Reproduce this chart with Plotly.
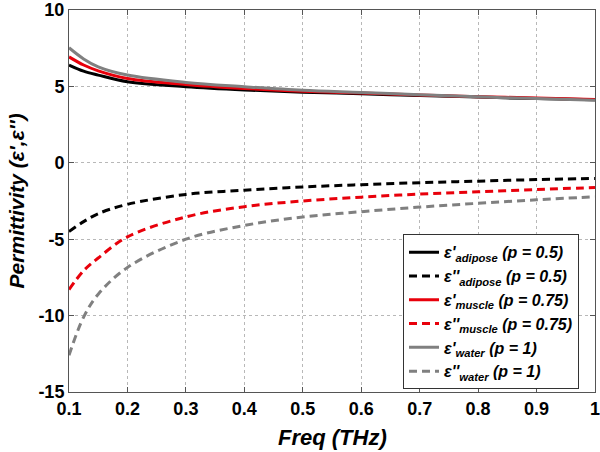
import plotly.graph_objects as go

freq = [0.1, 0.125, 0.15, 0.2, 0.3, 0.4, 0.5, 0.6, 0.7, 0.8, 0.9, 1.0]

eps1_adipose = [6.4, 6.0, 5.74, 5.3, 4.98, 4.77, 4.62, 4.52, 4.40, 4.30, 4.20, 4.12]
eps1_muscle = [6.93, 6.4, 6.02, 5.52, 5.13, 4.87, 4.68, 4.56, 4.44, 4.33, 4.24, 4.15]
eps1_water = [7.53, 6.8, 6.28, 5.74, 5.26, 4.98, 4.74, 4.60, 4.45, 4.32, 4.20, 4.10]

eps2_adipose = [-4.5, -3.85, -3.33, -2.72, -2.07, -1.79, -1.58, -1.43, -1.30, -1.20, -1.10, -1.02]
eps2_muscle = [-8.3, -7.06, -6.23, -4.85, -3.54, -2.87, -2.50, -2.25, -2.05, -1.90, -1.75, -1.62]
eps2_water = [-12.6, -10.1, -8.6, -6.85, -5.0, -4.1, -3.55, -3.2, -2.9, -2.65, -2.42, -2.22]

series = [
    ("ε'<sub>adipose</sub> (p = 0.5)", eps1_adipose, "#000000", "solid"),
    ("ε''<sub>adipose</sub> (p = 0.5)", eps2_adipose, "#000000", "8px,5px"),
    ("ε'<sub>muscle</sub> (p = 0.75)", eps1_muscle, "#e8000b", "solid"),
    ("ε''<sub>muscle</sub> (p = 0.75)", eps2_muscle, "#e8000b", "8px,5px"),
    ("ε'<sub>water</sub> (p = 1)", eps1_water, "#808080", "solid"),
    ("ε''<sub>water</sub> (p = 1)", eps2_water, "#808080", "8px,5px"),
]

xticks = [0.1, 0.2, 0.3, 0.4, 0.5, 0.6, 0.7, 0.8, 0.9, 1.0]
xticklabels = ["0.1", "0.2", "0.3", "0.4", "0.5", "0.6", "0.7", "0.8", "0.9", "1"]
yticks = [-15, -10, -5, 0, 5, 10]
yticklabels = ["-15", "-10", "-5", "0", "5", "10"]

fig = go.Figure()
for name, vals, color, dash in series:
    fig.add_trace(go.Scatter(
        x=freq, y=vals, mode="lines", name="<b><i>" + name + "</i></b>",
        line=dict(color=color, width=3, dash=dash, shape="spline", smoothing=1.0),
    ))

axis_common = dict(
    showline=True, linecolor="#555555", linewidth=1, mirror="ticks",
    ticks="inside", ticklen=5, tickcolor="#555555",
    showgrid=True, gridcolor="#b8b8b8", griddash="dot", gridwidth=1,
    zeroline=False, automargin=False, ticklabeloverflow="allow",
    tickfont=dict(family="Liberation Sans, Arial", size=18, color="black", weight="bold"),
)

fig.update_layout(
    width=600, height=452,
    margin=dict(l=69, r=5, t=10, b=60),
    paper_bgcolor="white", plot_bgcolor="white",
    font=dict(family="Liberation Sans, Arial", color="black"),
    xaxis=dict(range=[0.1, 1.0], tickvals=xticks, ticktext=xticklabels, **axis_common),
    yaxis=dict(range=[-15, 10], tickvals=yticks, ticktext=yticklabels, **axis_common),
    legend=dict(
        x=0.635, y=0.413, xanchor="left", yanchor="top",
        bgcolor="white", bordercolor="#333333", borderwidth=1,
        font=dict(size=16, color="black"),
        tracegroupgap=0,
    ),
    showlegend=True,
    annotations=[
        dict(text="<b><i>Freq (THz)</i></b>", xref="paper", yref="paper",
             x=0.5, y=-0.12, xanchor="center", yanchor="middle",
             showarrow=False, font=dict(size=22, color="black")),
        dict(text="<b><i>Permittivity (ε',ε'')</i></b>", xref="paper", yref="paper",
             x=-0.1, y=0.5, xanchor="center", yanchor="middle", textangle=-90,
             showarrow=False, font=dict(size=21, color="black")),
    ],
)

fig.write_html("out.html", config={"displayModeBar": False},
               post_script="document.body.style.margin='0';document.body.style.padding='0';")
